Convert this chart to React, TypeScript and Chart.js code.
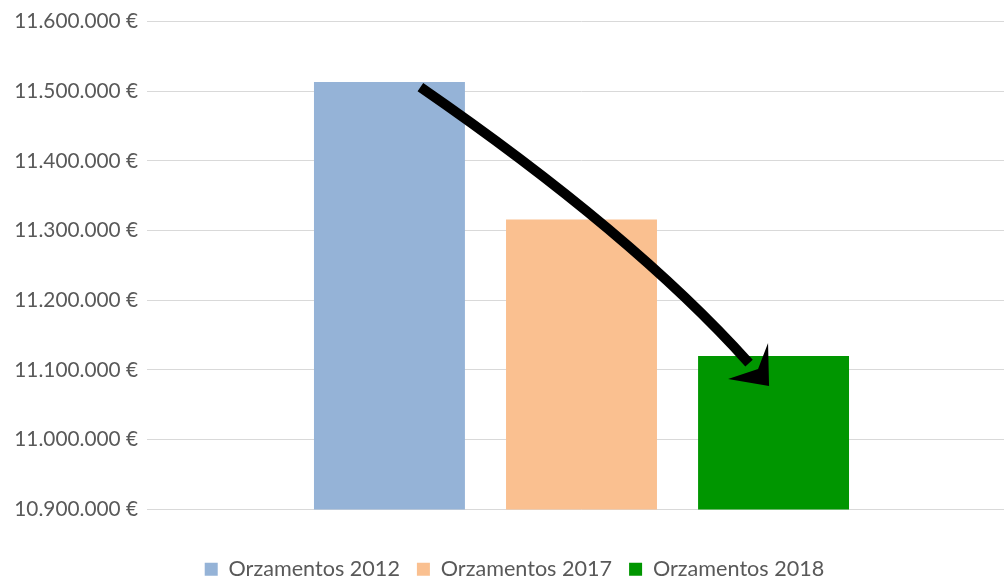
import React, { useEffect, useRef } from "react";
import { Chart, registerables } from "chart.js";

Chart.register(...registerables);

const categories = [""];
const seriesLabels = ["Orzamentos 2012", "Orzamentos 2017", "Orzamentos 2018"];
const orzamentos2012 = [11513000];
const orzamentos2017 = [11316000];
const orzamentos2018 = [11120000];
const seriesColors = ["#95b3d7", "#fac090", "#009600"];
const yMin = 10900000;
const yMax = 11600000;
const yStep = 100000;

function formatEuro(v: number): string {
  const s = Math.round(v).toString().replace(/\B(?=(\d{3})+(?!\d))/g, ".");
  return s + " €";
}

const legendShiftPlugin = {
  id: "legendShift",
  beforeUpdate(chart: any) {
    const lg = chart.legend;
    if (lg && !lg.__patched) {
      const orig = lg.fit.bind(lg);
      lg.fit = function () {
        orig();
        this.height = Math.max(0, this.height - 13);
      };
      lg.__patched = true;
    }
  },
};

const arrowPlugin = {
  id: "arrowPlugin",
  afterDatasetsDraw(chart: any) {
    const m0 = chart.getDatasetMeta(0).data[0];
    const m2 = chart.getDatasetMeta(2).data[0];
    if (!m0 || !m2) return;
    const ctx = chart.ctx;
    const w = m0.width;
    const p0x = m0.x + 0.205 * w;
    const p0y = m0.y + 5;
    const tipX = m2.x - 4.5;
    const tipY = m2.y + 30;
    const endX = tipX - 20;
    const endY = tipY - 23;
    const cx = p0x + 0.645 * (endX - p0x);
    const cy = p0y + 0.53 * (endY - p0y);
    ctx.save();
    ctx.strokeStyle = "#000";
    ctx.lineWidth = 10;
    ctx.lineCap = "butt";
    ctx.beginPath();
    ctx.moveTo(p0x, p0y);
    ctx.quadraticCurveTo(cx, cy, endX, endY);
    ctx.stroke();
    ctx.fillStyle = "#000";
    ctx.beginPath();
    ctx.moveTo(tipX, tipY);
    ctx.lineTo(tipX - 41, tipY - 7);
    ctx.lineTo(tipX - 11, tipY - 17);
    ctx.lineTo(tipX - 1, tipY - 43);
    ctx.closePath();
    ctx.fill();
    ctx.restore();
  },
};

export default function App() {
  const ref = useRef<HTMLCanvasElement | null>(null);
  useEffect(() => {
    if (!ref.current) return;
    const chart = new Chart(ref.current, {
      type: "bar",
      data: {
        labels: categories,
        datasets: [
          { label: seriesLabels[0], data: orzamentos2012, backgroundColor: seriesColors[0] },
          { label: seriesLabels[1], data: orzamentos2017, backgroundColor: seriesColors[1] },
          { label: seriesLabels[2], data: orzamentos2018, backgroundColor: seriesColors[2] },
        ],
      },
      options: {
        animation: false,
        responsive: false,
        maintainAspectRatio: false,
        devicePixelRatio: 1,
        layout: { padding: { left: 13, top: 15, right: 0, bottom: 0 } },
        datasets: {
          bar: { categoryPercentage: 0.663, barPercentage: 0.786 },
        },
        scales: {
          x: {
            display: true,
            grid: { display: false },
            border: { display: false },
            ticks: { display: false },
            afterFit: (scale: any) => {
              scale.height = 32;
            },
          },
          y: {
            min: yMin,
            max: yMax,
            border: { display: false },
            grid: { color: "#d9d9d9", lineWidth: 1, drawTicks: false },
            afterFit: (scale: any) => {
              scale.width = 134;
            },
            ticks: {
              stepSize: yStep,
              padding: 9,
              color: "#595959",
              font: { family: "Lato", size: 20.8 },
              callback: (v: any) => formatEuro(Number(v)),
            },
          },
        },
        plugins: {
          legend: {
            position: "bottom",
            labels: {
              boxWidth: 13,
              boxHeight: 13,
              padding: 17,
              color: "#595959",
              font: { family: "Lato", size: 21.6 },
            },
          },
          tooltip: { enabled: false },
        },
      },
      plugins: [legendShiftPlugin, arrowPlugin],
    });
    return () => chart.destroy();
  }, []);
  return (
    <div style={{ position: "fixed", left: 0, top: 0, width: 1004, height: 577, background: "#fff", overflow: "hidden" }}>
      <canvas ref={ref} width={1016} height={577} style={{ width: 1016, height: 577, display: "block" }} />
    </div>
  );
}
